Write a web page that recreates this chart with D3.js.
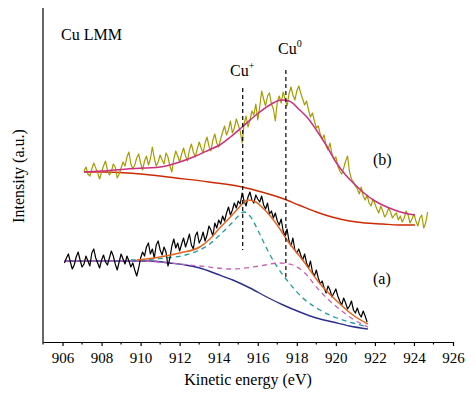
<!DOCTYPE html>
<html><head><meta charset="utf-8">
<script src="https://cdnjs.cloudflare.com/ajax/libs/d3/7.8.5/d3.min.js"></script>
<style>html,body{margin:0;padding:0;background:#fff}svg{display:block}text{font-family:"Liberation Serif","Times New Roman",serif}</style>
</head><body><svg id="c" width="476" height="399"></svg>
<script>
// ---------- data ----------
const majorTicks = [906,908,910,912,914,916,918,920,922,924,926];
const minorTicks = [905,907,909,911,913,915,917,919,921,923,925];

// (b) measured spectrum: start energy, step, intensities
const specB_start = 907.1, specB_step = 0.1;
const specB = [
171,175,168,166,173,179,174,169,163,170,
176,181,172,167,170,178,175,164,168,174,
180,176,185,190,178,173,177,184,188,179,
172,181,186,177,183,195,184,176,180,187,
182,178,189,185,176,170,183,191,186,180,
188,194,186,181,192,198,190,185,193,200,
194,189,199,205,196,191,202,208,199,195,
203,210,216,207,212,221,209,214,223,217,
211,199,218,226,215,222,231,227,238,222,
235,251,243,236,246,249,238,233,221,240,
246,239,250,243,236,248,255,247,242,251,
256,249,243,237,241,232,225,229,221,214,
216,208,203,207,196,192,199,188,183,185,
176,171,168,174,181,186,170,163,160,156,
153,148,155,146,142,147,139,136,143,138,
133,129,136,131,125,128,134,130,124,127,
129,122,126,120,124,131,127,119,123,128,
121,116,124,127,114,119,130];
// (b) envelope fit
const fitB = [[907.1,170],[908,171],[909.3,173],[911,175],[912,180],[912.7,185],[913.5,192],[914.05,197],[914.6,205],[915.2,215],[916.1,230],[916.7,238],[917.2,242],[917.6,241],[918.15,232],[918.6,223],[919.0,212],[919.5,197],[920.0,180],[920.5,167],[921.0,157],[921.5,148],[922.0,141],[922.5,136],[923.0,132],[923.5,129],[924.05,127]];
// (b) background
const bgB = [[907.1,170],[908,170],[909.3,169],[910.5,167],[911.8,164],[913.5,160],[915.2,155],[916.2,150],[917.2,144],[918.1,137],[919.0,130],[919.8,125],[920.7,121],[921.5,119],[922.4,118],[923.2,117],[924.05,117]];

// (a) measured spectrum
const specA_start = 906.1, specA_step = 0.1;
const specA = [
79,84,88,80,73,77,85,90,82,75,
78,86,81,76,89,93,84,79,74,82,
87,80,77,84,91,86,78,72,80,88,
83,78,86,81,75,79,72,66,74,84,
90,86,95,99,88,93,84,97,101,92,
87,95,90,76,84,96,103,94,99,91,
98,104,95,101,108,97,93,106,110,99,
103,110,101,107,116,112,106,119,114,122,
118,126,121,129,135,127,132,139,134,141,
138,149,141,136,145,150,142,139,147,143,
140,146,137,133,139,128,131,124,129,121,
117,123,111,106,113,101,96,104,92,89,
93,87,82,88,79,74,81,70,66,72,
64,58,61,54,49,56,52,45,49,53,
46,41,37,44,39,33,36,41,32,29,
34,28,25,31,26,20];
// (a) envelope fit
const fitA = [[909.8,82],[911,85],[912,89],[913.03,95],[913.6,104],[914.05,114],[914.5,123],[914.92,132],[915.2,138],[915.5,142],[915.9,140],[916.26,134],[916.6,127],[917.1,114],[917.5,102],[918.3,82],[919.2,58],[920.05,41],[920.87,27],[921.64,18]];
// (a) background
const bgA = [[906.1,81],[909,81],[910.46,81],[911.49,79],[912.3,77],[913.03,74],[913.9,68],[914.72,62],[915.6,54],[916.46,45],[917.3,37],[918.15,30],[919.0,24],[919.85,20],[920.7,16],[921.64,13]];
// (a) Cu+ component
const cuPlusA = [[909.5,82],[911.33,84],[912.3,87],[913.03,92],[913.6,99],[914.05,107],[914.72,120],[915.0,126],[915.3,130],[915.6,126],[916.1,108],[916.6,88],[917.0,75],[917.49,62],[918.31,44],[919.18,32],[920.05,24],[920.87,19],[921.64,15]];
// (a) Cu0 component
const cu0A = [[906.1,81],[909.8,81],[911.49,79],[913.03,76],[914.72,73],[916.1,76],[917.13,79],[917.8,77],[918.41,69],[919.18,51],[920.05,35],[920.87,23],[921.64,15]];

// marker lines: energy, top, bottom intensity
const markers = [
  {label:"Cu", sup:"+", e:915.23, top:254, bottom:92},
  {label:"Cu", sup:"0", e:917.44, top:272, bottom:63}
];

// ---------- drawing ----------
const svg = d3.select("#c");
const FONT = "'Liberation Serif','Times New Roman',serif";
const x = d3.scaleLinear().domain([905,926]).range([43,453]);
const y = d3.scaleLinear().domain([0,334]).range([342,8]);

const toPts = (start, step, arr) => arr.map((v,i)=>[start+i*step, v]);
const lineSmooth = d3.line().x(d=>x(d[0])).y(d=>y(d[1])).curve(d3.curveMonotoneX);
const lineRaw = d3.line().x(d=>x(d[0])).y(d=>y(d[1]));

function path(data, gen, color, w, dash){
  const p = svg.append("path").datum(data).attr("d", gen).attr("fill","none")
    .attr("stroke", color).attr("stroke-width", w).attr("stroke-linejoin","round");
  if (dash) p.attr("stroke-dasharray", dash);
  return p;
}

// (b)
path(bgB, lineSmooth, "#cc2a00", 1.4);
path(toPts(specB_start, specB_step, specB), lineRaw, "#a89b00", 1.2);
path(fitB, lineSmooth, "#cc2f80", 1.5);

// (a)
path(bgA, lineSmooth, "#2e2e8f", 1.4);
path(cuPlusA, lineSmooth, "#1b9e9e", 1.3, "5,4");
path(cu0A, lineSmooth, "#c462b8", 1.3, "5,4");
path(toPts(specA_start, specA_step, specA), lineRaw, "#000000", 1.2);
path(fitA, lineSmooth, "#e2641f", 1.5);

// dashed marker lines
svg.selectAll("line.mk").data(markers).enter().append("line").attr("class","mk")
  .attr("x1", d=>x(d.e)).attr("x2", d=>x(d.e))
  .attr("y1", d=>y(d.top)).attr("y2", d=>y(d.bottom))
  .attr("stroke","#000").attr("stroke-width",1.2).attr("stroke-dasharray","4,3");

// axes
const ax = svg.append("g").attr("transform","translate(0,342)")
  .call(d3.axisBottom(x).tickValues(majorTicks).tickFormat(d3.format("d")).tickSize(4).tickSizeOuter(0).tickPadding(6));
ax.attr("font-family", FONT);
ax.select(".domain").attr("stroke","#000").attr("stroke-width",1.2);
ax.selectAll(".tick line").attr("stroke","#000").attr("stroke-width",1.2);
ax.selectAll(".tick text").attr("font-size","15px").attr("font-family",FONT).attr("fill","#000");
ax.selectAll("line.minor").data(minorTicks).enter().append("line").attr("class","minor")
  .attr("x1",d=>x(d)).attr("x2",d=>x(d)).attr("y1",0).attr("y2",2.5)
  .attr("stroke","#000").attr("stroke-width",1.2);

svg.append("line").attr("x1",x(905)).attr("x2",x(905)).attr("y1",8).attr("y2",342)
  .attr("stroke","#000").attr("stroke-width",1.2);

// labels
function txt(xp, yp, s, size){
  return svg.append("text").attr("x",xp).attr("y",yp).attr("font-family",FONT)
    .attr("font-size",size||"16px").text(s);
}
txt(248,385,"Kinetic energy (eV)").attr("text-anchor","middle");
svg.append("text").attr("transform","translate(24,176) rotate(-90)").attr("text-anchor","middle")
  .attr("font-family",FONT).attr("font-size","16px").text("Intensity (a.u.)");
txt(61,40,"Cu LMM");
txt(373,165,"(b)");
txt(373,284,"(a)");

const mkLabelPos = [[230,76],[278,54]];
markers.forEach((m,i)=>{
  const t = svg.append("text").attr("x",mkLabelPos[i][0]).attr("y",mkLabelPos[i][1])
    .attr("font-family",FONT).attr("font-size","16px");
  t.append("tspan").text(m.label);
  t.append("tspan").attr("dy",-7).attr("font-size","10px").text(m.sup);
});
</script>
</body></html>
